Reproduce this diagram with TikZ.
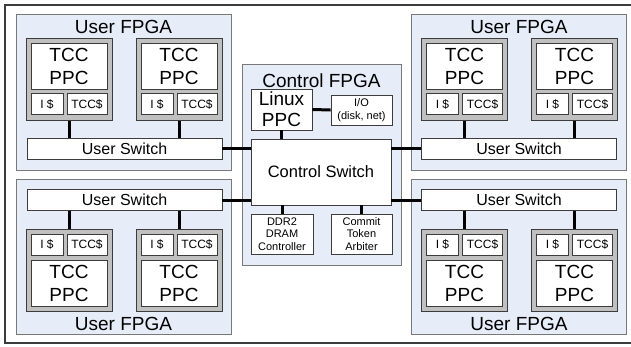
\documentclass[tikz,border=0pt]{standalone}
\usepackage{fontspec}
\setmainfont{Liberation Sans}
\usetikzlibrary{positioning}

\definecolor{fpgafill}{RGB}{231,237,248}
\definecolor{fpgaline}{RGB}{120,120,120}
\definecolor{modfill}{RGB}{192,192,192}
\definecolor{boxline}{RGB}{60,60,60}

\begin{document}
\begin{tikzpicture}[x=1pt,y=-1pt,
    fpga/.style={draw=fpgaline,fill=fpgafill,line width=0.9pt,inner sep=0pt},
    title/.style={inner sep=0pt,font=\fontsize{19}{22}\selectfont},
    module/.style={draw=boxline,fill=modfill,line width=0.9pt,inner sep=0pt,
        minimum width=86pt,minimum height=82pt},
    core/.style={draw=boxline,fill=white,line width=0.9pt,inner sep=0pt,align=center,
        minimum width=76pt,minimum height=46pt,font=\fontsize{19}{23}\selectfont},
    cache/.style={draw=boxline,fill=white,line width=0.9pt,inner sep=0pt,
        minimum height=21pt,font=\fontsize{12}{14}\selectfont},
    icache/.style={cache,minimum width=32pt},
    tcache/.style={cache,minimum width=40pt},
    usw/.style={draw=boxline,fill=white,line width=0.9pt,inner sep=0pt,
        minimum width=195pt,minimum height=21pt,font=\fontsize{16}{19}\selectfont},
    small/.style={draw=boxline,fill=white,line width=0.9pt,inner sep=0pt,align=center,
        font=\fontsize{11}{12.5}\selectfont},
    link/.style={line width=3pt}]

    \useasboundingbox (0,0) rectangle (631,346);
    \clip (0,0) rectangle (631,346);
    \draw[boxline,line width=1.3pt] (5,5) rectangle (640,343);

    % the four user FPGAs
    \node[fpga,minimum width=215pt,minimum height=156pt] (ul) at (123.5,92) {};
    \node[fpga,minimum width=215pt,minimum height=155pt] (ll) at (123.5,256.5) {};
    \node[fpga,minimum width=215pt,minimum height=156pt] (ur) at (518.5,92) {};
    \node[fpga,minimum width=215pt,minimum height=155pt] (lr) at (518.5,256.5) {};
    \node[title] (ultitle) at (123.5,27) {User FPGA};
    \node[title] (lltitle) at (123.5,324) {User FPGA};
    \node[title] (urtitle) at (519,27) {User FPGA};
    \node[title] (lrtitle) at (519,324) {User FPGA};

    % user switches
    \node[usw] (ulsw) at (124.5,148.5) {User Switch};
    \node[usw] (llsw) at (124.5,200) {User Switch};
    \node[usw] (ursw) at (519,148.5) {User Switch};
    \node[usw] (lrsw) at (519,200) {User Switch};

    % top row cores: PPC on top, caches below
    \node[module] (ula) at (69,79.5) {};
    \node[core,below=5pt of ula.north] (ulacore) {TCC\\PPC};
    \node[icache,above right=6pt and 5pt of ula.south west] (ulaic) {I \$};
    \node[tcache,above left=6pt and 5pt of ula.south east] (ulatc) {TCC\$};

    \node[module] (ulb) at (179,79.5) {};
    \node[core,below=5pt of ulb.north] (ulbcore) {TCC\\PPC};
    \node[icache,above right=6pt and 5pt of ulb.south west] (ulbic) {I \$};
    \node[tcache,above left=6pt and 5pt of ulb.south east] (ulbtc) {TCC\$};

    \node[module] (ura) at (464.5,79.5) {};
    \node[core,below=5pt of ura.north] (uracore) {TCC\\PPC};
    \node[icache,above right=6pt and 5pt of ura.south west] (uraic) {I \$};
    \node[tcache,above left=6pt and 5pt of ura.south east] (uratc) {TCC\$};

    \node[module] (urb) at (574.5,79.5) {};
    \node[core,below=5pt of urb.north] (urbcore) {TCC\\PPC};
    \node[icache,above right=6pt and 5pt of urb.south west] (urbic) {I \$};
    \node[tcache,above left=6pt and 5pt of urb.south east] (urbtc) {TCC\$};

    % bottom row cores: caches on top, PPC below
    \node[module] (lla) at (69,270) {};
    \node[core,above=5pt of lla.south] (llacore) {TCC\\PPC};
    \node[icache,below right=5pt and 5pt of lla.north west] (llaic) {I \$};
    \node[tcache,below left=5pt and 5pt of lla.north east] (llatc) {TCC\$};

    \node[module] (llb) at (179,270) {};
    \node[core,above=5pt of llb.south] (llbcore) {TCC\\PPC};
    \node[icache,below right=5pt and 5pt of llb.north west] (llbic) {I \$};
    \node[tcache,below left=5pt and 5pt of llb.north east] (llbtc) {TCC\$};

    \node[module] (lra) at (464.5,270) {};
    \node[core,above=5pt of lra.south] (lracore) {TCC\\PPC};
    \node[icache,below right=5pt and 5pt of lra.north west] (lraic) {I \$};
    \node[tcache,below left=5pt and 5pt of lra.north east] (lratc) {TCC\$};

    \node[module] (lrb) at (574.5,270) {};
    \node[core,above=5pt of lrb.south] (lrbcore) {TCC\\PPC};
    \node[icache,below right=5pt and 5pt of lrb.north west] (lrbic) {I \$};
    \node[tcache,below left=5pt and 5pt of lrb.north east] (lrbtc) {TCC\$};

    % control FPGA
    \node[fpga,minimum width=159pt,minimum height=201pt] (ctl) at (321.5,164.5) {};
    \node[title] (ctltitle) at (321.5,81) {Control FPGA};
    \node[small,minimum width=61pt,minimum height=41pt,font=\fontsize{19}{21}\selectfont]
        (linux) at (281.5,109.5) {Linux\\PPC};
    \node[small,minimum width=61pt,minimum height=30pt] (io) at (361.5,110) {I/O\\(disk, net)};
    \node[small,minimum width=140pt,minimum height=66pt,font=\fontsize{16.5}{19}\selectfont]
        (cswitch) at (321,172) {Control Switch};
    \node[small,minimum width=62pt,minimum height=40pt] (dram) at (282,234) {DDR2\\DRAM\\Controller};
    \node[small,minimum width=61pt,minimum height=40pt] (arbiter) at (361.5,234) {Commit\\Token\\Arbiter};

    % links inside the control FPGA
    \draw[link] (linux.east) -- (io.west);
    \draw[link] (linux.south) -- (linux.south |- cswitch.north);
    \draw[link] (dram.north) -- (dram.north |- cswitch.south);
    \draw[link] (arbiter.north) -- (arbiter.north |- cswitch.south);

    % user switches to the control switch
    \draw[link] (ulsw.east) -- (ulsw.east -| cswitch.west);
    \draw[link] (llsw.east) -- (llsw.east -| cswitch.west);
    \draw[link] (ursw.west) -- (ursw.west -| cswitch.east);
    \draw[link] (lrsw.west) -- (lrsw.west -| cswitch.east);

    % cores to their user switch
    \draw[link] (ula.south) -- (ula.south |- ulsw.north);
    \draw[link] (ulb.south) -- (ulb.south |- ulsw.north);
    \draw[link] (ura.south) -- (ura.south |- ursw.north);
    \draw[link] (urb.south) -- (urb.south |- ursw.north);
    \draw[link] (lla.north) -- (lla.north |- llsw.south);
    \draw[link] (llb.north) -- (llb.north |- llsw.south);
    \draw[link] (lra.north) -- (lra.north |- lrsw.south);
    \draw[link] (lrb.north) -- (lrb.north |- lrsw.south);

\end{tikzpicture}
\end{document}
